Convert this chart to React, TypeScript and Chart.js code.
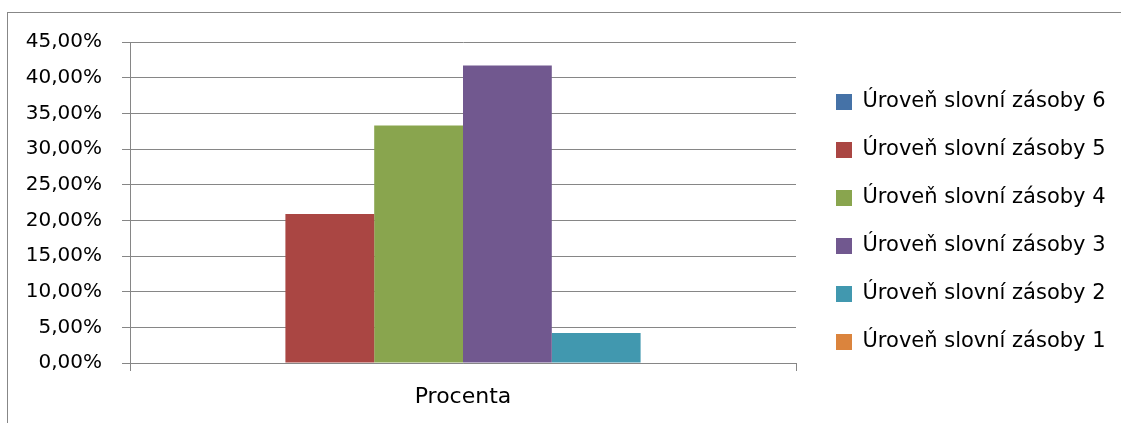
import React, { useEffect, useRef } from 'react';
import { Chart, registerables } from 'chart.js';

Chart.register(...registerables);

const categories = ['Procenta'];
const seriesLabels = [
  'Úroveň slovní zásoby 6',
  'Úroveň slovní zásoby 5',
  'Úroveň slovní zásoby 4',
  'Úroveň slovní zásoby 3',
  'Úroveň slovní zásoby 2',
  'Úroveň slovní zásoby 1',
];
const seriesValues = [0, 20.9, 33.3, 41.7, 4.2, 0];
const seriesColors = ['#4572A7', '#AA4643', '#89A54E', '#71588F', '#4198AF', '#DB843D'];
const yTickMin = 0;
const yTickMax = 45;
const yTickStep = 5;

const FAMILY = '"DejaVu Sans", sans-serif';
const LEGEND_SIZE = 21;
const LEGEND_PAD = 27;
const BOX = 16;
const GRID = '#868686';

export default function App() {
  const ref = useRef<HTMLCanvasElement>(null);

  useEffect(() => {
    const canvas = ref.current!;
    const mctx = document.createElement('canvas').getContext('2d')!;
    mctx.font = `${LEGEND_SIZE}px ${FAMILY}`;
    const maxText = Math.max(...seriesLabels.map((l) => mctx.measureText(l).width));
    const legendW = LEGEND_PAD + BOX + LEGEND_SIZE / 2 + maxText + 10;
    const plotRight = 796;
    const gap = 13;
    const canvasW = Math.ceil(plotRight + gap + legendW);
    canvas.width = canvasW;
    canvas.height = 423;
    canvas.style.width = canvasW + 'px';
    canvas.style.height = '423px';

    const chart = new Chart(canvas, {
      type: 'bar',
      data: {
        labels: categories,
        datasets: seriesLabels.map((label, i) => ({
          label,
          data: [seriesValues[i]],
          backgroundColor: seriesColors[i],
          borderWidth: 0,
          barPercentage: 1,
          categoryPercentage: 0.8,
          xAxisID: 'x',
          yAxisID: 'y',
        })),
      },
      options: {
        responsive: false,
        animation: false,
        layout: { padding: { top: 33, bottom: 12, left: 0, right: canvasW - plotRight - gap - legendW } },
        plugins: {
          legend: {
            position: 'right',
            align: 'center',
            maxWidth: 600,
            labels: {
              font: { family: FAMILY, size: LEGEND_SIZE },
              color: '#000000',
              boxWidth: BOX,
              boxHeight: BOX,
              padding: LEGEND_PAD,
            },
          },
          tooltip: { enabled: false },
          title: { display: false },
        },
        scales: {
          x: {
            grid: { display: true, drawOnChartArea: false, drawTicks: true, tickLength: 8, color: GRID, lineWidth: 1 },
            border: { display: true, color: GRID, width: 1 },
            ticks: { font: { family: FAMILY, size: 22 }, color: '#000000', padding: 13 },
            afterFit: (s: any) => {
              s.height = 48;
            },
          },
          topGap: {
            type: 'linear',
            axis: 'x',
            position: 'top',
            display: true,
            grid: { display: false },
            ticks: { display: false },
            border: { display: false },
            afterFit: (s: any) => {
              s.height = 9;
            },
          },
          y: {
            min: yTickMin,
            max: yTickMax,
            ticks: {
              stepSize: yTickStep,
              font: { family: FAMILY, size: 20 },
              color: '#000000',
              padding: 20,
              callback: (v: any) => Number(v).toFixed(2).replace('.', ',') + '%',
            },
            grid: { color: GRID, lineWidth: 1, tickLength: 8 },
            border: { display: true, color: GRID, width: 1 },
            afterFit: (s: any) => {
              s.width = 130;
            },
          },
          rightGap: {
            type: 'linear',
            axis: 'y',
            position: 'right',
            display: true,
            grid: { display: false },
            ticks: { display: false },
            border: { display: false },
            afterFit: (s: any) => {
              s.width = gap;
            },
          },
        },
      },
    } as any);
    return () => chart.destroy();
  }, []);

  return (
    <div style={{ position: 'fixed', left: 0, top: 0, width: 1121, height: 423, overflow: 'hidden', background: '#ffffff' }}>
      <div
        style={{
          position: 'absolute',
          left: 7,
          top: 12,
          width: 1200,
          height: 500,
          border: '1px solid #878787',
          boxSizing: 'border-box',
        }}
      />
      <canvas ref={ref} style={{ position: 'absolute', left: 0, top: 0 }} />
    </div>
  );
}
